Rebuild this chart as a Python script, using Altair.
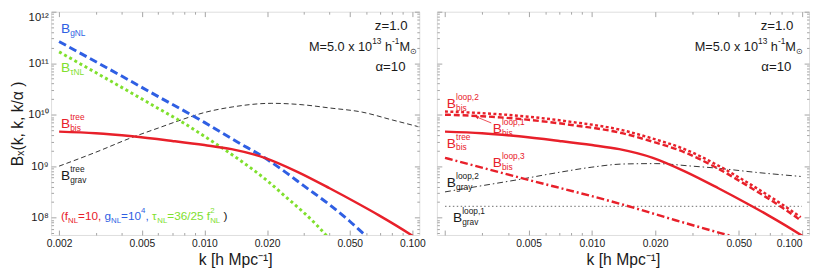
import json
import altair as alt
import pandas as pd

FONT = "Liberation Sans"
RED = "#e8202a"
BLUE = "#2f5fe3"
GREEN = "#80e02e"
INK = "#1a1a1a"
GRAY = "#8a8a8a"
FRAME = "#8c8c8c"

W_LEFT, W_RIGHT, H = 376, 380, 228
k_domain = [0.00183, 0.108]
B_domain = [4.6e7, 1.0e12]

x_ticks = [0.002, 0.005, 0.01, 0.02, 0.05, 0.1]
x_minor = [0.003, 0.004, 0.006, 0.007, 0.008, 0.009, 0.03, 0.04, 0.06, 0.07, 0.08, 0.09]
y_ticks = [1e8, 1e9, 1e10, 1e11, 1e12]
y_tick_labels = ["10⁸", "10⁹", "10¹⁰", "10¹¹", "10¹²"]
y_minor = [m * 10.0 ** e for e in range(7, 12) for m in range(2, 10) if 4.6e7 < m * 10.0 ** e < 1e12]

# ---- left panel curves ----
k_gnl = [0.002, 0.004, 0.006, 0.0087, 0.010, 0.0144, 0.0195, 0.025, 0.030, 0.040, 0.050, 0.0585, 0.062]
B_gnl = [2.63e11, 5.62e10, 2.24e10, 9.77e9, 7.08e9, 2.95e9, 1.45e9, 7.24e8, 4.17e8, 1.78e8, 8.5e7, 4.8e7, 3.9e7]

k_tau = [0.002, 0.004, 0.006, 0.008, 0.010, 0.012, 0.015, 0.020, 0.025, 0.030, 0.035, 0.040]
B_tau = [1.66e11, 3.39e10, 1.32e10, 6.76e9, 3.80e9, 2.34e9, 1.26e9, 5.25e8, 2.40e8, 1.26e8, 6.9e7, 3.8e7]

k_tree = [0.002, 0.003, 0.0045, 0.007, 0.010, 0.0135, 0.0195, 0.028, 0.040, 0.055, 0.0688, 0.0972, 0.105]
B_tree = [4.68e9, 4.37e9, 3.80e9, 3.09e9, 2.57e9, 2.14e9, 1.45e9, 7.76e8, 3.72e8, 1.86e8, 1.12e8, 4.8e7, 3.9e7]

k_grav_tree = [0.002, 0.003, 0.0045, 0.006, 0.0075, 0.010, 0.0136, 0.0211, 0.030, 0.040, 0.0574, 0.080, 0.106]
B_grav_tree = [1.0e9, 1.86e9, 3.63e9, 5.5e9, 7.59e9, 1.10e10, 1.41e10, 1.66e10, 1.55e10, 1.35e10, 1.12e10, 7.9e9, 5.9e9]

# ---- right panel curves ----
k_loop = [0.002, 0.003, 0.005, 0.008, 0.0141, 0.0193, 0.0276, 0.0395, 0.0566, 0.0808, 0.0986]
B_loop2 = [1.15e10, 1.07e10, 9.12e9, 7.24e9, 4.95e9, 3.47e9, 2.14e9, 1.05e9, 4.47e8, 1.78e8, 1.02e8]
B_loop1 = [1.00e10, 9.33e9, 7.94e9, 6.31e9, 4.32e9, 3.02e9, 1.86e9, 9.12e8, 3.89e8, 1.55e8, 8.9e7]

k_loop3 = [0.002, 0.0045, 0.0141, 0.025, 0.041, 0.05]
B_loop3 = [1.45e9, 6.03e8, 1.78e8, 8.9e7, 5.0e7, 4.0e7]

k_grav_loop2 = [0.002, 0.003, 0.0045, 0.007, 0.010, 0.0141, 0.020, 0.030, 0.0395, 0.060, 0.0986]
B_grav_loop2 = [3.16e8, 4.17e8, 5.5e8, 7.59e8, 9.55e8, 1.10e9, 1.12e9, 1.0e9, 9.12e8, 7.59e8, 6.31e8]

k_grav_loop1 = [0.002, 0.1]
B_grav_loop1 = [1.66e8, 1.66e8]

# ---- curve labels: (panel, k, B baseline, main, sub, sup, color) ----
curve_labels = [
    ("L", 0.00204, 3.9e11, "B", "gNL", "", BLUE),
    ("L", 0.00204, 6.7e10, "B", "τNL", "", GREEN),
    ("L", 0.00204, 5.6e9, "B", "bis", "tree", RED),
    ("L", 0.00204, 5.4e8, "B", "grav", "tree", INK),
    ("R", 0.00204, 1.33e10, "B", "bis", "loop,2", RED),
    ("R", 0.00337, 4.4e9, "B", "bis", "loop,1", RED),
    ("R", 0.00204, 2.3e9, "B", "bis", "tree", RED),
    ("R", 0.00337, 9.8e8, "B", "bis", "loop,3", RED),
    ("R", 0.00204, 3.95e8, "B", "gray", "loop,2", INK),
    ("R", 0.00218, 8.2e7, "B", "grav", "loop,1", INK),
]
arrow = {"k": [0.00332], "B": [6.9e9], "k2": [0.00285], "B2": [8.9e9]}
fnl_anchor = {"k": [0.00204], "B": [9.1e7]}

xs = alt.Scale(type="log", domain=k_domain, nice=False)
ys = alt.Scale(type="log", domain=B_domain, nice=False)

ADV = {"B": .667, "N": .722, "L": .556, "M": .833, "(": .333, ")": .333, "f": .278, "=": .584,
       ",": .278, " ": .278, "/": .278, ".": .278, "τ": .46, "g": .556, "x": .5, "h": .556,
       "z": .5, "α": .58, "-": .333, "⊙": .75}


def tw(t, size):
    return sum(ADV.get(c, 0.556) for c in t) * size


def X(field="k"):
    return alt.X(f"{field}:Q", scale=xs, axis=None)


def Y(field="B"):
    return alt.Y(f"{field}:Q", scale=ys, axis=None)


def line(k, b, color, width, dash=None):
    df = pd.DataFrame({"k": k, "B": b})
    kw = dict(color=color, strokeWidth=width, clip=True, interpolate="monotone")
    if dash:
        kw["strokeDash"] = dash
    return alt.Chart(df).mark_line(**kw).encode(x=X(), y=Y())


def tick_axis(orient, values, size, offset):
    return alt.Axis(orient=orient, values=values, labels=False, ticks=True, tickSize=size,
                    tickColor=FRAME, tickWidth=0.8, domain=False, grid=False, title=None,
                    offset=offset)


def axis_layers(W, labeled_y):
    src = pd.DataFrame({"k": k_tree, "B": B_tree})
    xlab = dict(orient="bottom", values=x_ticks, format=".3f", ticks=False, domain=False,
                grid=False, labelFont=FONT, labelFontSize=10.5, labelColor=INK, labelPadding=4,
                title="k  [h Mpc⁻¹]", titleFont=FONT, titleFontSize=16,
                titleFontWeight="normal", titleColor=INK, titlePadding=3)
    if not labeled_y:
        xlab["labelExpr"] = "datum.value < 0.003 ? '' : format(datum.value, '.3f')"
        xlab["labelFlush"] = 10
    if labeled_y:
        yaxis = alt.Axis(orient="left", values=y_ticks,
                         labelExpr=json.dumps(y_tick_labels, ensure_ascii=False)
                         + "[round(log(datum.value)/LN10)-8]",
                         ticks=False, domain=False, grid=False, labelFont=FONT,
                         labelFontSize=11.5, labelColor=INK, labelPadding=3, labelFlush=True,
                         title="Bₓ(k, k, k/α )", titleFont=FONT, titleFontSize=16,
                         titleFontWeight="normal", titleColor=INK, titlePadding=3)
    else:
        yaxis = None
    layers = [alt.Chart(src).mark_point(opacity=0).encode(
        x=alt.X("k:Q", scale=xs, axis=alt.Axis(**xlab)),
        y=alt.Y("B:Q", scale=ys, axis=yaxis))]
    specs = [
        ("top", "right", x_ticks, y_ticks, 5, -H, -W),
        ("top", "right", x_minor, y_minor, 2.5, -H, -W),
        ("bottom", "left", x_ticks, y_ticks, 5, -H, -W),
        ("bottom", "left", x_minor, y_minor, 2.5, -H, -W),
    ]
    for xo, yo, xv, yv, size, xoff, yoff in specs:
        layers.append(alt.Chart(src).mark_point(opacity=0).encode(
            x=alt.X("k:Q", scale=xs, axis=tick_axis(xo, xv, size, xoff)),
            y=alt.Y("B:Q", scale=ys, axis=tick_axis(yo, yv, size, yoff))))
    return layers


def piece_layers(pieces, x_enc, y_enc, source):
    layers = []
    cx = 0.0
    for p in pieces:
        text, size, dy, color = p[:4]
        adv = p[4] if len(p) > 4 else None
        body = text.lstrip(" ")
        lead = tw(text[: len(text) - len(body)], size)
        layers.append(alt.Chart(source).mark_text(
            text=body.rstrip(), align="left", baseline="alphabetic", font=FONT,
            fontSize=size, color=color, dx=cx + lead, dy=dy).encode(x=x_enc, y=y_enc))
        cx += tw(text, size) if adv is None else adv
    return layers


def corner_layers(W, m_z, m_m, m_a):
    src = pd.DataFrame({"a": [0]})
    out = []
    z = [("z=1.0", 13.5, 0, INK)]
    out += piece_layers(z, alt.value(W - m_z - tw("z=1.0", 13.5)), alt.value(19), src)
    mline = [("M=5.0 x 10", 13, 0, INK), ("13", 8.5, -7, INK), (" h", 13, 0, INK),
             ("-1", 8.5, -7, INK), ("M", 13, 0, INK), ("⊙", 8.5, 3, INK)]
    total = sum(tw(p[0], p[1]) for p in mline)
    out += piece_layers(mline, alt.value(W - m_m - total), alt.value(40), src)
    a = [("α=10", 13.5, 0, INK)]
    out += piece_layers(a, alt.value(W - m_a - tw("α=10", 13.5)), alt.value(61), src)
    return out


def label_layers(panel):
    rows = [r for r in curve_labels if r[0] == panel]
    df = pd.DataFrame(rows, columns=["panel", "k", "B", "main", "sub", "sup", "color"])
    base = alt.Chart(df).encode(x=X(), y=Y(), color=alt.Color("color:N", scale=None))
    common = dict(align="left", baseline="alphabetic", font=FONT)
    return [
        base.mark_text(fontSize=14, **common).encode(text="main:N"),
        base.mark_text(fontSize=8.5, dx=9.5, dy=3, **common).encode(text="sub:N"),
        base.mark_text(fontSize=8.5, dx=9.5, dy=-8, **common).encode(text="sup:N"),
    ]


# ---------------- left panel ----------------
fnl_pieces = [
    ("(f", 12, 0, RED), ("NL", 8, 3, RED), ("=10,", 12, 0, RED),
    (" g", 12, 0, BLUE), ("NL", 8, 3, BLUE), ("=10", 12, 0, BLUE), ("4", 8, -7, BLUE),
    (",", 12, 0, BLUE),
    (" τ", 12, 0, GREEN), ("NL", 8, 3, GREEN), ("=36/25 f", 12, 0, GREEN),
    ("NL", 8, 3, GREEN, 0.0), ("2", 8, -7, GREEN, tw("NL", 8)),
    (" )", 12, 0, INK),
]

left = alt.layer(
    *axis_layers(W_LEFT, True),
    line(k_grav_tree, B_grav_tree, INK, 0.9, [5, 3]),
    line(k_tau, B_tau, GREEN, 3, [3, 3]),
    line(k_gnl, B_gnl, BLUE, 3, [8, 4]),
    line(k_tree, B_tree, RED, 2.5),
    *label_layers("L"),
    *piece_layers(fnl_pieces, X(), Y(), pd.DataFrame(fnl_anchor)),
    *corner_layers(W_LEFT, 12, 3, 14),
).resolve_axis(x="independent", y="independent").properties(width=W_LEFT, height=H)

# ---------------- right panel ----------------
arrow_df = pd.DataFrame(arrow)
arrow_rule = alt.Chart(arrow_df).mark_rule(color=RED, strokeWidth=0.8).encode(
    x=X(), y=Y(), x2="k2:Q", y2="B2:Q")
arrow_head = alt.Chart(arrow_df).mark_point(shape="triangle", filled=True, size=14, color=RED,
                                            angle=291, opacity=1).encode(x=X("k2"), y=Y("B2"))

right = alt.layer(
    *axis_layers(W_RIGHT, False),
    line(k_grav_loop1, B_grav_loop1, GRAY, 1.3, [1.5, 2.5]),
    line(k_grav_loop2, B_grav_loop2, INK, 0.9, [6, 3, 1.5, 3]),
    line(k_loop3, B_loop3, RED, 2.5, [8, 3, 2, 3]),
    line(k_tree, B_tree, RED, 2.5),
    line(k_loop, B_loop1, RED, 2.5, [6, 3]),
    line(k_loop, B_loop2, RED, 2.5, [3, 2.5]),
    arrow_rule, arrow_head,
    *label_layers("R"),
    *corner_layers(W_RIGHT, 16, 7, 18),
).resolve_axis(x="independent", y="independent").properties(width=W_RIGHT, height=H)

chart = alt.hconcat(left, right, spacing=10).properties(
    padding={"left": 0, "top": 0, "right": 0, "bottom": 0}
).configure_view(stroke=FRAME, strokeWidth=1).configure(background="white")

chart.save("out.html", embed_options={"renderer": "svg", "actions": False})
